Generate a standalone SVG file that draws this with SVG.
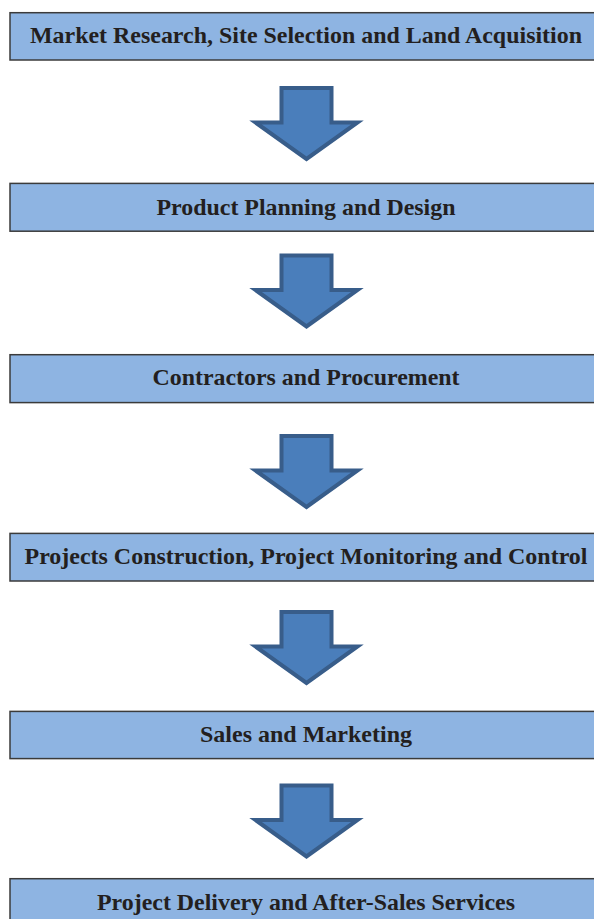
<svg xmlns="http://www.w3.org/2000/svg" xmlns:xlink="http://www.w3.org/1999/xlink" width="594" height="919" viewBox="0 0 594 919">
<style>
.box{fill:#8eb4e2;stroke:#3b3b3b;stroke-width:1.5}
.lbl{font-family:"Liberation Serif","Times New Roman",serif;font-weight:bold;font-size:24px;fill:#231f20;text-anchor:middle}
.arr{fill:#4a7ebb;stroke:#385d8a;stroke-width:4;stroke-linejoin:miter;stroke-miterlimit:10}
</style>
<defs>
<path id="down" class="arr" d="M281.5,2 H331.5 V36.5 H357.5 L306.5,73 L255.5,36.5 H281.5 Z"/>
</defs>
<rect width="594" height="919" fill="#ffffff"/>
<g id="connectors">
<use xlink:href="#down" transform="translate(0,86)"/>
<use xlink:href="#down" transform="translate(0,253.5)"/>
<use xlink:href="#down" transform="translate(0,434)"/>
<use xlink:href="#down" transform="translate(0,610)"/>
<use xlink:href="#down" transform="translate(0,783.5)"/>
</g>
<g id="node1">
<rect class="box" x="10" y="12.7" width="600" height="47.3"/>
<text class="lbl" x="306" y="43" textLength="552" lengthAdjust="spacingAndGlyphs">Market Research, Site Selection and Land Acquisition</text>
</g>
<g id="node2">
<rect class="box" x="10" y="183.4" width="600" height="47.8"/>
<text class="lbl" x="306" y="215" textLength="299" lengthAdjust="spacingAndGlyphs">Product Planning and Design</text>
</g>
<g id="node3">
<rect class="box" x="10" y="354.7" width="600" height="47.9"/>
<text class="lbl" x="306" y="384.5" textLength="307" lengthAdjust="spacingAndGlyphs">Contractors and Procurement</text>
</g>
<g id="node4">
<rect class="box" x="10" y="533.4" width="600" height="47.6"/>
<text class="lbl" x="306" y="563.5" textLength="563" lengthAdjust="spacingAndGlyphs">Projects Construction, Project Monitoring and Control</text>
</g>
<g id="node5">
<rect class="box" x="10" y="711.4" width="600" height="47.2"/>
<text class="lbl" x="306" y="742" textLength="212" lengthAdjust="spacingAndGlyphs">Sales and Marketing</text>
</g>
<g id="node6">
<rect class="box" x="10" y="878.7" width="600" height="60"/>
<text class="lbl" x="306" y="910" textLength="418" lengthAdjust="spacingAndGlyphs">Project Delivery and After-Sales Services</text>
</g>
</svg>
